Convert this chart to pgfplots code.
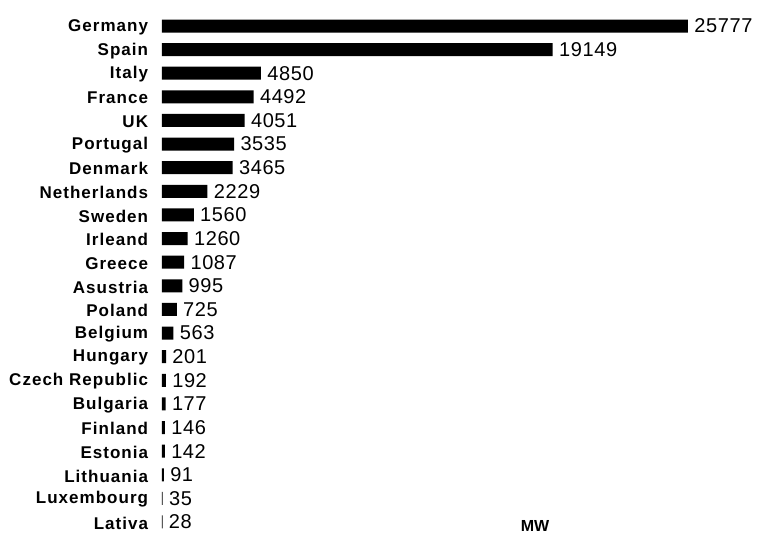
\documentclass[border=0pt]{standalone}
\usepackage{fontspec}
\setmainfont{Liberation Sans}
\newfontfamily\lblfont[LetterSpace=6]{Liberation Sans}
\newfontfamily\valfont[LetterSpace=3]{Liberation Sans}
\usepackage{pgfplots}
\usepackage{pgfplotstable}
\pgfplotsset{compat=1.18}

% Installed wind power capacity by country (MW)
\pgfplotstableread{
idx mw
0  25777
1  19149
2  4850
3  4492
4  4051
5  3535
6  3465
7  2229
8  1560
9  1260
10 1087
11 995
12 725
13 563
14 201
15 192
16 177
17 146
18 142
19 91
20 35
21 28
}\capacity

\begin{document}
\begin{tikzpicture}
\useasboundingbox (-81pt,-0.1pt) rectangle (297.5pt,266.9pt);
\begin{axis}[
  at={(0,0)}, anchor=south west,
  scale only axis,
  width=289pt, height=259.8pt,
  xbar, bar width=6.5pt,
  xmin=0, xmax=28325,
  ymin=-0.5, ymax=21.5,
  y dir=reverse,
  clip=false,
  axis line style={draw=none},
  tick style={draw=none},
  xtick=\empty,
  ytick={0,...,21},
  yticklabels={Germany,Spain,Italy,France,UK,Portugal,Denmark,Netherlands,Sweden,Irleand,Greece,Asustria,Poland,Belgium,Hungary,Czech Republic,Bulgaria,Finland,Estonia,Lithuania,Luxembourg,Lativa},
  yticklabel style={font=\lblfont\bfseries\fontsize{8.5}{9}\selectfont, anchor=east, inner sep=0pt, xshift=-2.5pt, yshift=-0.6pt},
  point meta=explicit symbolic,
  nodes near coords,
  nodes near coords style={anchor=west, inner sep=0pt, xshift=3pt, font=\valfont\fontsize{10}{11}\selectfont},
]
\addplot[fill=black, draw=none] table[x=mw, y=idx, meta=mw] {\capacity};
\node[font=\bfseries\fontsize{8}{9}\selectfont] at (axis cs:18280,21.17) {MW};
\end{axis}
\end{tikzpicture}
\end{document}
